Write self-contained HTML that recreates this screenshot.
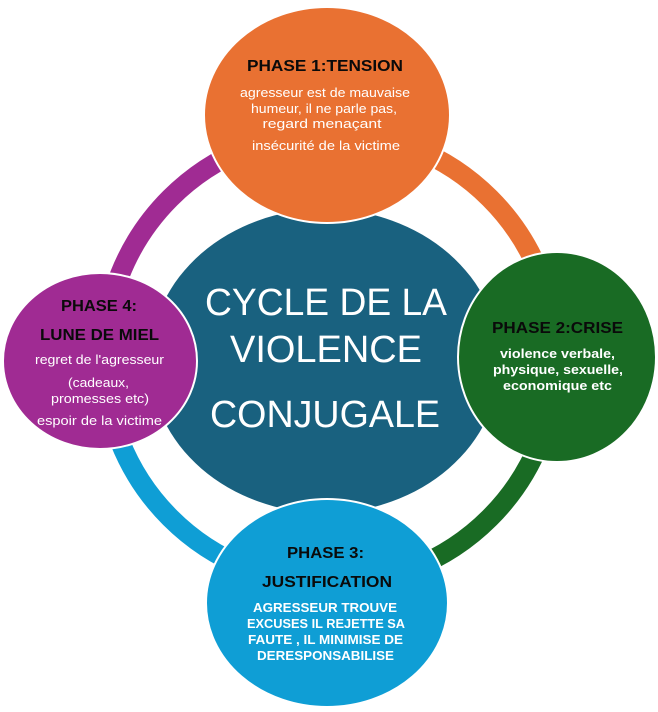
<!DOCTYPE html>
<html>
<head>
<meta charset="utf-8">
<style>
  html, body { margin: 0; padding: 0; background: #ffffff; }
  body { width: 658px; height: 712px; overflow: hidden; }
  svg { display: block; }
  text { font-family: "Liberation Sans", Arial, sans-serif; }
  .h { font-weight: bold; fill: #0a0a0a; font-size: 16px; }
  .w { fill: #ffffff; font-size: 12.5px; }
  .wb { fill: #ffffff; font-size: 12.5px; font-weight: bold; }
  .c { fill: #ffffff; font-size: 38px; }
</style>
</head>
<body>
<svg width="658" height="712" viewBox="0 0 658 712" xmlns="http://www.w3.org/2000/svg">
  <!-- ring arcs -->
  <g fill="none" stroke-width="20">
    <path d="M 330 132 A 226 226 0 0 1 556 358" stroke="#E97132"/>
    <path d="M 556 358 A 226 226 0 0 1 330 584" stroke="#196B24"/>
    <path d="M 330 584 A 226 226 0 0 1 104 358" stroke="#0F9ED5"/>
    <path d="M 104 358 A 226 226 0 0 1 330 132" stroke="#A02B93"/>
  </g>

  <!-- center -->
  <ellipse cx="325" cy="361" rx="175" ry="152" fill="#19617F"/>

  <!-- phase circles -->
  <ellipse cx="327" cy="115" rx="123" ry="108" fill="#E97132" stroke="#ffffff" stroke-width="2"/>
  <ellipse cx="557" cy="357" rx="99" ry="105" fill="#196B24" stroke="#ffffff" stroke-width="2"/>
  <ellipse cx="327" cy="603" rx="121" ry="104" fill="#0F9ED5" stroke="#ffffff" stroke-width="2"/>
  <ellipse cx="100" cy="361" rx="97" ry="88" fill="#A02B93" stroke="#ffffff" stroke-width="2"/>

  <!-- center text -->
  <g text-anchor="middle" lengthAdjust="spacingAndGlyphs">
    <text class="c" x="326" y="315" textLength="242" lengthAdjust="spacingAndGlyphs">CYCLE DE LA</text>
    <text class="c" x="326" y="362" textLength="192" lengthAdjust="spacingAndGlyphs">VIOLENCE</text>
    <text class="c" x="325" y="427" textLength="230" lengthAdjust="spacingAndGlyphs">CONJUGALE</text>
  </g>

  <!-- phase 1 -->
  <g text-anchor="middle">
    <text class="h" x="325" y="71" textLength="156" lengthAdjust="spacingAndGlyphs">PHASE 1:TENSION</text>
    <text class="w" x="325" y="97" textLength="170" lengthAdjust="spacingAndGlyphs">agresseur est de mauvaise</text>
    <text class="w" x="324" y="113" textLength="146" lengthAdjust="spacingAndGlyphs">humeur, il ne parle pas,</text>
    <text class="w" x="322" y="128" textLength="119" lengthAdjust="spacingAndGlyphs">regard menaçant</text>
    <text class="w" x="326" y="150" textLength="148" lengthAdjust="spacingAndGlyphs">insécurité de la victime</text>
  </g>

  <!-- phase 2 -->
  <g text-anchor="middle">
    <text class="h" x="557.5" y="333" textLength="131" lengthAdjust="spacingAndGlyphs">PHASE 2:CRISE</text>
    <text class="wb" x="557.5" y="358" textLength="115" lengthAdjust="spacingAndGlyphs">violence verbale,</text>
    <text class="wb" x="558" y="374" textLength="130" lengthAdjust="spacingAndGlyphs">physique, sexuelle,</text>
    <text class="wb" x="557.5" y="390" textLength="109" lengthAdjust="spacingAndGlyphs">economique etc</text>
  </g>

  <!-- phase 3 -->
  <g text-anchor="middle">
    <text class="h" x="325.5" y="558" textLength="77" lengthAdjust="spacingAndGlyphs">PHASE 3:</text>
    <text class="h" x="327" y="587" textLength="130" lengthAdjust="spacingAndGlyphs">JUSTIFICATION</text>
    <text class="wb" x="325" y="612" textLength="144" lengthAdjust="spacingAndGlyphs">AGRESSEUR TROUVE</text>
    <text class="wb" x="326" y="628" textLength="158" lengthAdjust="spacingAndGlyphs">EXCUSES IL REJETTE SA</text>
    <text class="wb" x="325.5" y="644" textLength="155" lengthAdjust="spacingAndGlyphs">FAUTE , IL MINIMISE DE</text>
    <text class="wb" x="325.5" y="660" textLength="137" lengthAdjust="spacingAndGlyphs">DERESPONSABILISE</text>
  </g>

  <!-- phase 4 -->
  <g text-anchor="middle">
    <text class="h" x="99" y="311" textLength="76" lengthAdjust="spacingAndGlyphs">PHASE 4:</text>
    <text class="h" x="99.5" y="340" textLength="119" lengthAdjust="spacingAndGlyphs">LUNE DE MIEL</text>
    <text class="w" x="99.5" y="364" textLength="129" lengthAdjust="spacingAndGlyphs">regret de l'agresseur</text>
    <text class="w" x="98.5" y="387" textLength="61" lengthAdjust="spacingAndGlyphs">(cadeaux,</text>
    <text class="w" x="100" y="403" textLength="98" lengthAdjust="spacingAndGlyphs">promesses etc)</text>
    <text class="w" x="99.5" y="425" textLength="125" lengthAdjust="spacingAndGlyphs">espoir de la victime</text>
  </g>
</svg>
</body>
</html>
